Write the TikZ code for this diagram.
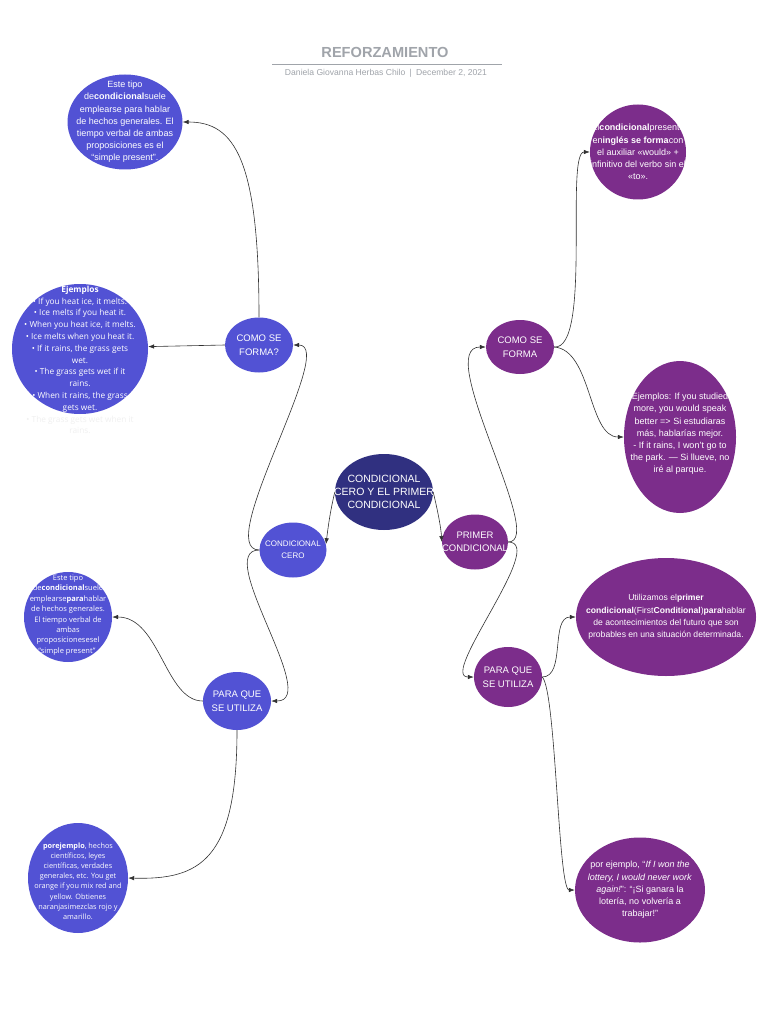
\documentclass[tikz,border=0pt]{standalone}
\usepackage{fontspec}
\setmainfont{Liberation Sans}
\newfontfamily\osans{Open Sans}
\usetikzlibrary{shapes.geometric,arrows.meta}
\definecolor{cblue}{RGB}{82,82,212}
\definecolor{cnavy}{RGB}{48,48,128}
\definecolor{cpurple}{RGB}{124,45,139}
\definecolor{ctitle}{RGB}{160,164,170}
\definecolor{cline}{RGB}{50,50,50}
\begin{document}
\begin{tikzpicture}[x=1pt,y=-1pt,
  bub/.style={ellipse,inner sep=0pt,draw=none},
  bblue/.style={bub,fill=cblue},
  bnavy/.style={bub,fill=cnavy},
  bpurple/.style={bub,fill=cpurple},
  wt/.style={text=white,align=center,inner sep=0pt},
  f9/.style={font=\fontsize{9}{12.2}\selectfont},
  small/.style={font=\fontsize{9.5}{13.5}\selectfont},
  conn/.style={draw=cline,line width=0.6pt,-{Latex[length=6pt,width=4.5pt]}}
]
\useasboundingbox (0,0) rectangle (768,1024);
\fill[white] (0,0) rectangle (768,1024);

% title
\node[text=ctitle,font=\bfseries\fontsize{14.6}{16}\selectfont] (title) at (385,52) {REFORZAMIENTO};
\draw[ctitle,line width=0.6pt] (272,64) -- (502,64);
\node[text=ctitle,font=\fontsize{8.6}{10}\selectfont] (sub) at (386,73) {Daniela Giovanna Herbas Chilo\enspace|\enspace December 2, 2021};

% ellipses
\node[bblue,minimum width=115pt,minimum height=95pt] (a1) at (125,122) {};
\node[bblue,minimum width=136pt,minimum height=130pt] (a2) at (80,349) {};
\node[bblue,minimum width=68pt,minimum height=55pt] (como1) at (259,345) {};
\node[bblue,minimum width=67pt,minimum height=55pt] (cero) at (293,550) {};
\node[bnavy,minimum width=98pt,minimum height=76pt] (main) at (384,492) {};
\node[bpurple,minimum width=66pt,minimum height=55pt] (primer) at (475,542) {};
\node[bpurple,minimum width=68pt,minimum height=54pt] (como2) at (520,347) {};
\node[bpurple,minimum width=96pt,minimum height=95pt] (r1) at (638,152) {};
\node[bpurple,minimum width=112pt,minimum height=152pt] (r2) at (680,437) {};
\node[bpurple,minimum width=180pt,minimum height=118pt] (r3) at (666,617) {};
\node[bpurple,minimum width=68pt,minimum height=60pt] (para2) at (508,677) {};
\node[bpurple,minimum width=130pt,minimum height=105pt] (r4) at (640,890) {};
\node[bblue,minimum width=68pt,minimum height=58pt] (para1) at (237,701) {};
\node[bblue,minimum width=88pt,minimum height=90pt] (l3) at (68,617) {};
\node[bblue,minimum width=100pt,minimum height=110pt] (l4) at (78,878) {};

% texts
\node[wt,f9] (a1t) at (a1) {Este tipo\\de\textbf{condicional}suele\\emplearse para hablar\\de hechos generales. El\\tiempo verbal de ambas\\proposiciones es el\\“simple present”.};
\node[wt,font=\osans\fontsize{8.3}{11.8}\selectfont] (a2t) at (80,360) {\textbf{Ejemplos}\\• If you heat ice, it melts.\\• Ice melts if you heat it.\\• When you heat ice, it melts.\\• Ice melts when you heat it.\\• If it rains, the grass gets\\wet.\\• The grass gets wet if it\\rains.\\• When it rains, the grass\\gets wet.\\\textcolor{black!6}{• The grass gets wet when it}\\\textcolor{black!6}{rains.}};
\node[wt,small] (como1t) at (como1) {COMO SE\\FORMA?};
\node[wt,font=\fontsize{8}{12}\selectfont] (cerot) at (cero) {CONDICIONAL\\CERO};
\node[wt,font=\fontsize{10.5}{13.2}\selectfont] (maint) at (main) {CONDICIONAL\\CERO Y EL PRIMER\\CONDICIONAL};
\node[wt,small] (primert) at (primer) {PRIMER\\CONDICIONAL};
\node[wt,small] (como2t) at (como2) {COMO SE\\FORMA};
\node[wt,f9] (r1t) at (r1) {El\textbf{condicional}presente\\en\textbf{inglés se forma}con\\el auxiliar «would» +\\infinitivo del verbo sin el\\«to».};
\node[wt,f9] (r2t) at (680,434) {Ejemplos: If you studied\\more, you would speak\\better => Si estudiaras\\más, hablarías mejor.\\- If it rains, I won't go to\\the park. — Si llueve, no\\iré al parque.};
\node[wt,font=\fontsize{8.6}{12.3}\selectfont] (r3t) at (666,617) {Utilizamos el\textbf{primer}\\\textbf{condicional}(First\textbf{Conditional})\textbf{para}hablar\\de acontecimientos del futuro que son\\probables en una situación determinada.};
\node[wt,small] (para2t) at (para2) {PARA QUE\\SE UTILIZA};
\node[wt,f9] (r4t) at (640,890) {por ejemplo, “\textit{If I won the}\\\textit{lottery, I would never work}\\\textit{again!}”: “¡Si ganara la\\lotería, no volvería a\\trabajar!”};
\node[wt,small] (para1t) at (para1) {PARA QUE\\SE UTILIZA};
\node[wt,font=\osans\fontsize{7.5}{10.4}\selectfont] (l3t) at (68,615) {Este tipo\\de\textbf{condicional}suele\\emplearse\textbf{para}hablar\\de hechos generales.\\El tiempo verbal de\\ambas\\proposicionesesel\\“simple present”.};
\node[wt,font=\osans\fontsize{7.3}{10.2}\selectfont] (l4t) at (78,881) {\textbf{porejemplo}, hechos\\científicos, leyes\\científicas, verdades\\generales, etc. You get\\orange if you mix red and\\yellow. Obtienes\\naranjasimezclas rojo y\\amarillo.};

% connectors
\draw[conn] (como1.north) .. controls (259,160) and (235,122) .. (a1.east);
\draw[conn] (como1.west) -- (a2.2);
\draw[conn] (cero.west) .. controls (212,550) and (338,345) .. (como1.east);
\draw[conn] (cero.west) .. controls (212,550) and (322,701) .. (para1.east);
\draw[conn] (para1.west) .. controls (165,701) and (160,617) .. (l3.east);
\draw[conn] (para1.south) .. controls (237,860) and (200,880) .. (l4.east);
\draw[conn] (main.west) .. controls (330,512) and (328,528) .. (cero.10);
\draw[conn] (main.east) .. controls (438,512) and (441,528) .. (primer.west);
\draw[conn] (primer.east) .. controls (548,542) and (432,347) .. (como2.west);
\draw[conn] (primer.east) .. controls (548,542) and (438,677) .. (para2.west);
\draw[conn] (como2.east) .. controls (592,350) and (565,152) .. (r1.west);
\draw[conn] (como2.east) .. controls (592,350) and (588,437) .. (r2.west);
\draw[conn] (para2.east) .. controls (566,677) and (550,617) .. (r3.west);
\draw[conn] (para2.east) .. controls (556,690) and (558,890) .. (r4.west);
\end{tikzpicture}
\end{document}
